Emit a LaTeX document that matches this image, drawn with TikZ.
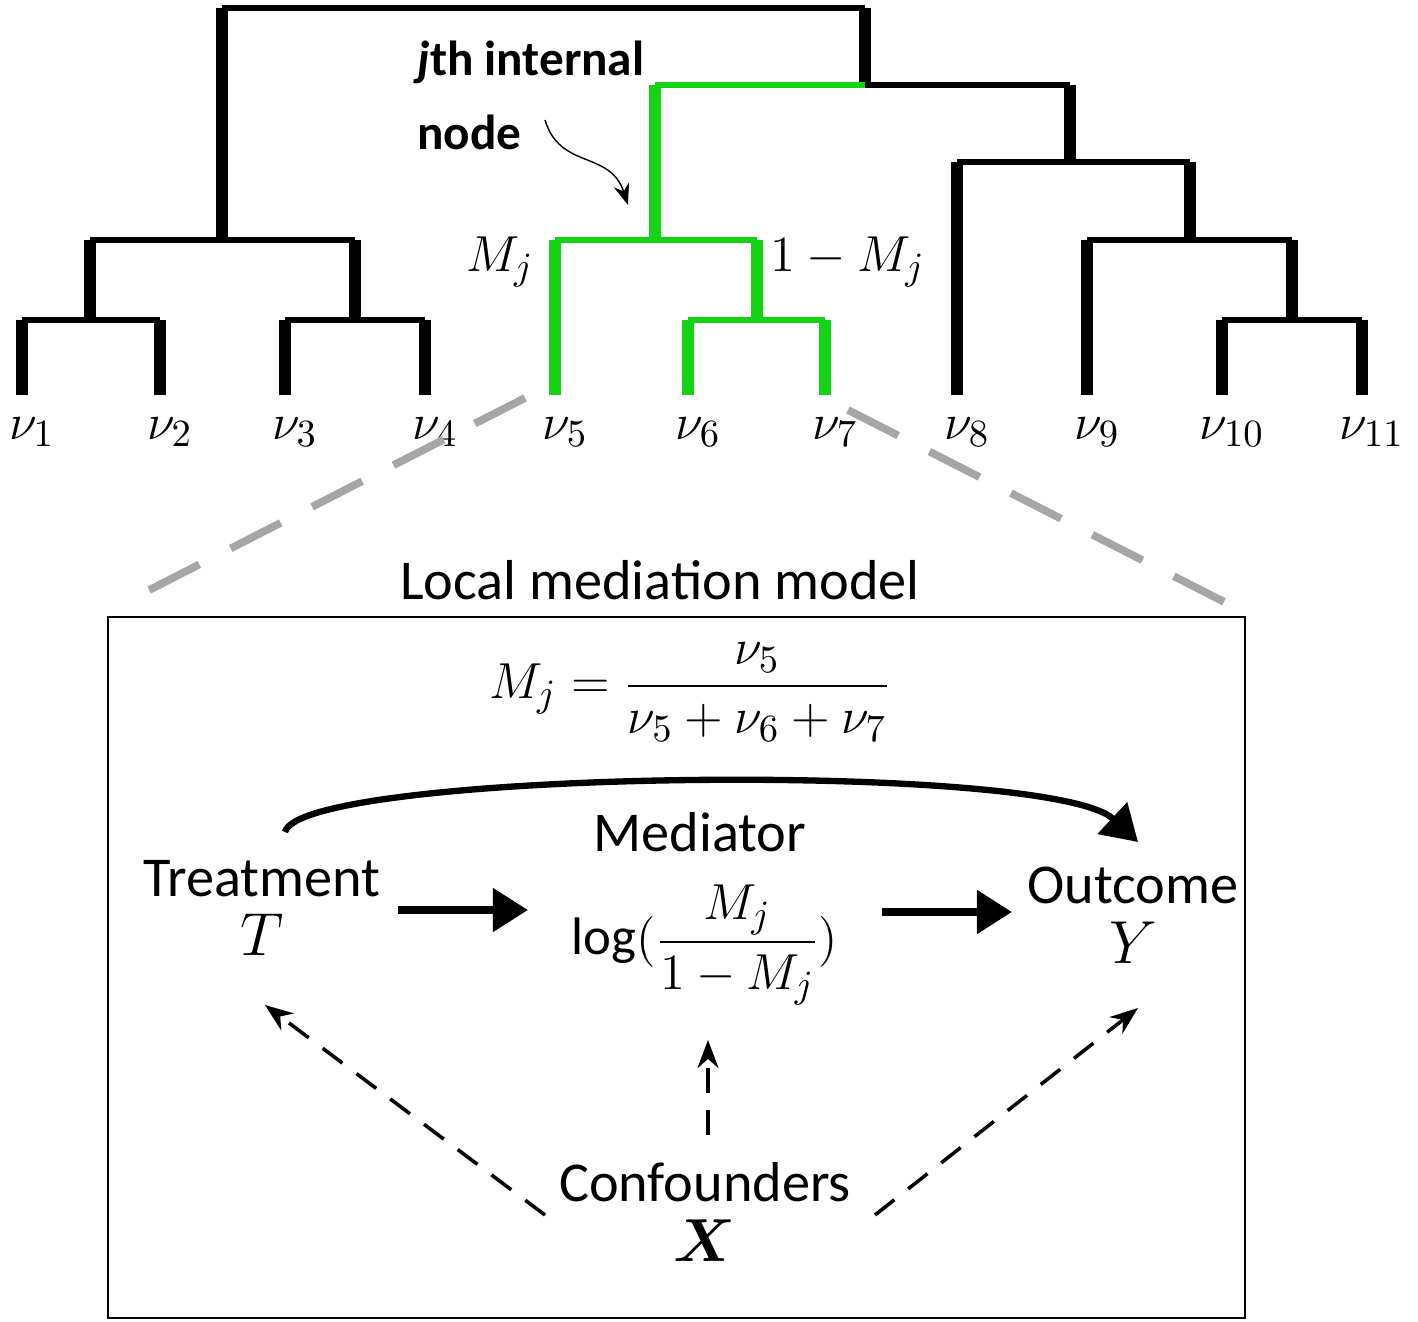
\documentclass[tikz,border=0pt]{standalone}
\usepackage{fontspec}
\setmainfont{Carlito}
\usepackage{amsmath}
\usetikzlibrary{arrows.meta}
\definecolor{tgreen}{RGB}{20,210,20}
\tikzset{
  vline/.style={line width=12pt*0.3},
  hline/.style={line width=5pt*0.3},
  txt/.style={font=\fontsize{16}{19}\selectfont},
  lab/.style={font=\fontsize{15}{18}\selectfont},
  conf/.style={line width=1pt,dash pattern=on 7pt off 5pt,-{Stealth[length=8pt]}},
}
\begin{document}
\begin{tikzpicture}[x=0.01cm,y=-0.01cm]
  \useasboundingbox (0,0) rectangle (1418,1322);
  % leaves
  \foreach \x in {22,160,285,425,957,1087,1222,1362}
    \draw[vline] (\x,320) -- (\x,395);
  \foreach \x in {555,688,825}
    \draw[vline,tgreen] (\x,320) -- (\x,395);
  \draw[vline,tgreen] (555,240) -- (555,320);
  \draw[vline] (957,162) -- (957,320);
  \draw[vline] (1087,240) -- (1087,320);
  % black internal nodes
  \draw[hline] (22,320) -- (160,320);
  \draw[hline] (285,320) -- (425,320);
  \draw[hline] (1222,320) -- (1362,320);
  \draw[vline] (90,240) -- (90,320);
  \draw[vline] (355,240) -- (355,320);
  \draw[vline] (1292,240) -- (1292,320);
  \draw[hline] (90,240) -- (355,240);
  \draw[hline] (1087,240) -- (1292,240);
  \draw[vline] (222,8) -- (222,240);
  \draw[vline] (1190,162) -- (1190,240);
  \draw[hline] (957,162) -- (1190,162);
  \draw[vline] (1070,85) -- (1070,162);
  \draw[hline] (865,85) -- (1070,85);
  \draw[vline] (865,8) -- (865,85);
  \draw[hline] (222,8) -- (865,8);
  % green subtree
  \draw[hline,tgreen] (688,320) -- (825,320);
  \draw[vline,tgreen] (757,240) -- (757,320);
  \draw[hline,tgreen] (555,240) -- (757,240);
  \draw[vline,tgreen] (655,85) -- (655,240);
  \draw[hline,tgreen] (655,85) -- (865,85);
  % leaf labels
  \foreach \x/\i in {22/1,160/2,285/3,425/4,555/5,688/6,825/7,957/8,1087/9,1222/10,1362/11}
    \node[lab] at (\x+10,432) {$\nu_{\i}$};
  \node[lab] (mj) at (500,262) {$M_j$};
  \node[lab] (omj) at (848,262) {$1-M_j$};
  \node[font=\fontsize{14}{21}\selectfont\bfseries,align=left,anchor=west] (jth) at (405,95) {\textit{j}th internal\\node};
  \coordinate (jtip) at (628,205);
  \draw[-{Stealth[length=6pt]}] (545,120) .. controls (560,170) and (610,150) .. (jtip);
  % zoom lines
  \draw[gray!70,line width=2.2pt,dash pattern=on 16pt off 10pt] (525,398) -- (120,605);
  \draw[gray!70,line width=2.2pt,dash pattern=on 16pt off 10pt] (848,410) -- (1240,610);
  % local model
  \node[txt] (title) at (660,580) {Local mediation model};
  \draw[line width=0.8pt] (108,617) rectangle (1245,1318);
  \node[lab] (eq) at (690,692) {$M_j=\dfrac{\nu_5}{\nu_5+\nu_6+\nu_7}$};
  \node[txt,align=center] (treat) at (262,908) {Treatment\\[-2pt]$T$};
  \node[txt,align=center] (outc) at (1133,915) {Outcome\\[-2pt]$Y$};
  \node[txt] (medl) at (700,832) {Mediator};
  \node[lab] (med) at (705,945) {$\log(\dfrac{M_j}{1-M_j})$};
  \node[txt,align=center] (conf) at (705,1212) {Confounders\\[-2pt]$\boldsymbol{X}$};
  \draw[line width=2.2pt,-{Triangle[length=10pt,width=12pt]}] (398,910) -- (528,910);
  \draw[line width=2.2pt,-{Triangle[length=10pt,width=12pt]}] (882,912) -- (1012,912);
  \draw[line width=1.8pt,-{Triangle[length=10pt,width=12pt]}] (285,832) .. controls (300,770) and (1050,760) .. (1138,842);
  \draw[conf] (545,1215) -- (265,1005);
  \draw[conf] (708,1135) -- (708,1040);
  \draw[conf] (875,1215) -- (1138,1008);
\end{tikzpicture}
\end{document}
